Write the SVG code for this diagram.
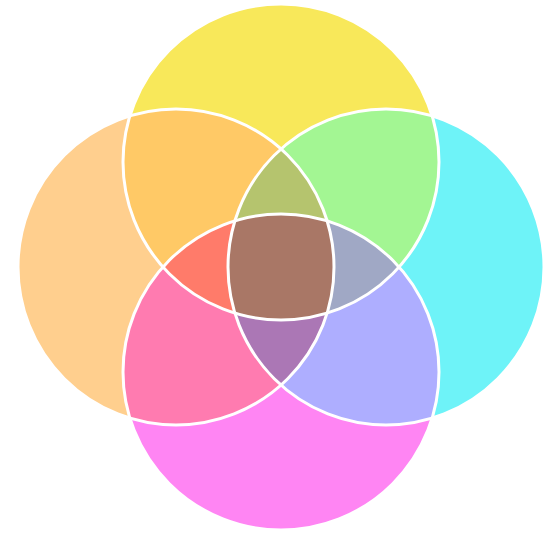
<svg xmlns="http://www.w3.org/2000/svg" width="557" height="534" viewBox="0 0 557 534">
  <style>
    .edge { fill: none; stroke: #ffffff; stroke-width: 3; }
  </style>
  <defs>
    <circle id="cT" cx="281" cy="162" r="158"/>
    <circle id="cB" cx="281" cy="372" r="158"/>
    <circle id="cL" cx="176" cy="267" r="158"/>
    <circle id="cR" cx="386" cy="267" r="158"/>
    <clipPath id="kT"><use href="#cT"/></clipPath>
    <clipPath id="kB"><use href="#cB"/></clipPath>
    <clipPath id="kL"><use href="#cL"/></clipPath>
    <clipPath id="kR"><use href="#cR"/></clipPath>
  </defs>
  <rect width="557" height="534" fill="#ffffff"/>
  <g id="regions">
    <g id="single">
      <use id="top" href="#cT" fill="#F8E85A"/>
      <use id="left" href="#cL" fill="#FFCF8E"/>
      <use id="right" href="#cR" fill="#6EF3F8"/>
      <use id="bottom" href="#cB" fill="#FF85F3"/>
    </g>
    <g id="pairs">
      <g clip-path="url(#kT)"><use href="#cL" fill="#FFC966"/></g>
      <g clip-path="url(#kT)"><use href="#cR" fill="#A3F693"/></g>
      <g clip-path="url(#kB)"><use href="#cL" fill="#FF7BB0"/></g>
      <g clip-path="url(#kB)"><use href="#cR" fill="#AEAEFF"/></g>
    </g>
    <g id="triples">
      <g clip-path="url(#kT)"><g clip-path="url(#kL)"><use href="#cR" fill="#B5C46E"/></g></g>
      <g clip-path="url(#kT)"><g clip-path="url(#kL)"><use href="#cB" fill="#FF7B6A"/></g></g>
      <g clip-path="url(#kT)"><g clip-path="url(#kR)"><use href="#cB" fill="#A0A8C5"/></g></g>
      <g clip-path="url(#kB)"><g clip-path="url(#kL)"><use href="#cR" fill="#AB77B5"/></g></g>
    </g>
    <g id="center">
      <g clip-path="url(#kT)"><g clip-path="url(#kB)"><g clip-path="url(#kL)"><use href="#cR" fill="#A97766"/></g></g></g>
    </g>
  </g>
  <g id="outlines">
    <use href="#cT" class="edge"/>
    <use href="#cL" class="edge"/>
    <use href="#cR" class="edge"/>
    <use href="#cB" class="edge"/>
  </g>
</svg>
